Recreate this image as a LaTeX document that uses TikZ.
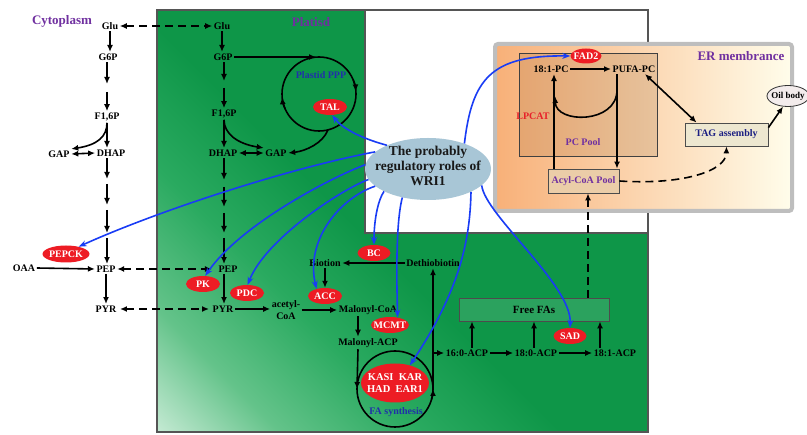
\documentclass[tikz,border=0pt]{standalone}
\usepackage{fontspec}
\setmainfont{Liberation Serif}
\usetikzlibrary{shapes.geometric,arrows.meta,calc}
\definecolor{gDark}{RGB}{14,150,72}
\definecolor{gMid2}{RGB}{42,170,96}
\definecolor{gMid}{RGB}{100,195,138}
\definecolor{gLight}{RGB}{212,240,223}
\definecolor{enzRed}{RGB}{237,28,36}
\definecolor{wriBlue}{RGB}{25,60,245}
\definecolor{wriFill}{RGB}{168,198,214}
\definecolor{purp}{RGB}{112,48,160}
\definecolor{dblue}{RGB}{32,48,170}
\definecolor{navy}{RGB}{26,30,130}
\definecolor{erL}{RGB}{248,176,120}
\definecolor{erR}{RGB}{255,253,235}
\definecolor{erBorder}{RGB}{190,190,190}
\definecolor{frameGray}{RGB}{85,85,85}
\definecolor{acylFill}{RGB}{235,205,168}
\definecolor{tagFill}{RGB}{237,231,208}
\definecolor{oilFill}{RGB}{243,236,236}
\definecolor{lpRed}{RGB}{232,32,42}
\definecolor{pcTint}{RGB}{140,90,40}
\pgfdeclarehorizontalshading{plastidsh}{100bp}{color(0bp)=(gLight); color(13bp)=(gLight); color(24bp)=(gMid); color(35bp)=(gMid2); color(46bp)=(gDark); color(100bp)=(gDark)}
\begin{document}
\begin{tikzpicture}[x=1pt,y=-1pt,
  lbl/.style={font=\fontsize{10}{12}\selectfont\bfseries, inner sep=1.5pt},
  bigp/.style={font=\fontsize{13}{15}\selectfont\bfseries, text=purp, inner sep=1pt},
  blueT/.style={font=\fontsize{10}{12}\selectfont\bfseries, text=dblue, inner sep=1pt},
  enz/.style={ellipse, fill=enzRed, inner sep=0pt},
  enzT/.style={font=\fontsize{10}{12}\selectfont\bfseries, text=white, inner sep=0pt, align=center},
  arr/.style={-{Latex[length=7pt,width=6pt]}, line width=1.6pt},
  darr/.style={{Latex[length=7pt,width=6pt]}-{Latex[length=7pt,width=6pt]}, line width=1.6pt},
  dsh/.style={dash pattern=on 8pt off 5pt},
  blu/.style={-{Stealth[length=8pt,width=6pt]}, line width=1.6pt, draw=wriBlue},
  pcbox/.style={draw=black!75, line width=0.8pt, fill=pcTint, fill opacity=0.18, minimum width=138pt, minimum height=103pt},
  ffabox/.style={draw=black!70, line width=0.8pt, fill=white, fill opacity=0.12, text opacity=1, minimum width=150pt, minimum height=23pt, font=\fontsize{11}{13}\selectfont\bfseries},
  acylbox/.style={draw=black!70, line width=0.8pt, fill=acylFill, minimum width=71pt, minimum height=24pt, text=purp, font=\fontsize{10}{12}\selectfont\bfseries},
  tagbox/.style={draw=black!70, line width=0.8pt, fill=tagFill, minimum width=83pt, minimum height=23pt, text=navy, font=\fontsize{10}{12}\selectfont\bfseries},
]
\useasboundingbox (0,0) rectangle (807,435);
% ---------- backgrounds
\shade[shading=plastidsh, shading angle=45] (157,10) rectangle (648,432);
\fill[white] (365,10) rectangle (648,233);
\draw[frameGray, line width=1.5pt] (157,10) rectangle (648,432);
\draw[frameGray, line width=1.5pt] (365,10) rectangle (648,233);
\shade[left color=erL, right color=erR, rounded corners=3pt] (495,44) rectangle (792,211);
\draw[erBorder, line width=4pt, rounded corners=3pt] (495,44) rectangle (792,211);

% ---------- titles
\node[bigp] (cyto) at (62,21) {Cytoplasm};
\node[bigp] (plast) at (311,22) {Platisd};
\node[bigp] (er) at (741,56) {ER membrance};

% ---------- cytoplasm nodes
\node[lbl] (cglu) at (110,26) {Glu};
\node[lbl] (cg6p) at (108,57) {G6P};
\node[lbl] (cf16p) at (107,117) {F1,6P};
\node[lbl] (cgap) at (59,154) {GAP};
\node[lbl] (cdhap) at (111,153) {DHAP};
\node[lbl] (cpep) at (106,269) {PEP};
\node[lbl] (cpyr) at (106,309) {PYR};
\node[lbl] (oaa) at (24,268) {OAA};

% ---------- plastid nodes
\node[lbl] (pglu) at (222,26) {Glu};
\node[lbl] (pg6p) at (223,57) {G6P};
\node[lbl] (pf16p) at (224,114) {F1,6P};
\node[lbl] (pdhap) at (223,153) {DHAP};
\node[lbl] (pgap) at (276,153) {GAP};
\node[lbl] (ppep) at (228,269) {PEP};
\node[lbl] (ppyr) at (223,309) {PYR};
\node[lbl, align=center] (acoa) at (286,310) {acetyl-\\CoA};
\node[lbl] (mcoa) at (368,310) {Malonyl-CoA};
\node[lbl] (macp) at (368,343) {Malonyl-ACP};
\node[lbl] (biot) at (325,263) {Biotion};
\node[lbl] (dethio) at (433,263) {Dethiobiotin};
\node[lbl] (c160) at (467,353) {16:0-ACP};
\node[lbl] (c180) at (536,353) {18:0-ACP};
\node[lbl] (c181) at (615,353) {18:1-ACP};
\node[ffabox] (ffa) at (534,309.5) {Free FAs};

% ---------- cytoplasm arrows
\coordinate (ca1) at (107,84);
\coordinate (ca2) at (107,92);
\draw[arr] (cglu.south) -- (cglu.south |- cg6p.north);
\draw[arr] (cg6p.south -| ca1) -- (ca1);
\draw[arr] (ca2) -- (ca2 |- cf16p.north);
\draw[arr] (cf16p.south) -- (cf16p.south |- cdhap.north);
\draw[arr] (cf16p.south) .. controls +(0,14) and +(26,-4) .. (cgap.north east);
\draw[darr] (cgap.east) -- (cdhap.west);
\coordinate (cb1) at (107,179);
\coordinate (cb2) at (107,184);
\coordinate (cb3) at (107,205);
\coordinate (cb4) at (107,210);
\coordinate (cb5) at (107,233);
\coordinate (cb6) at (107,238);
\draw[arr] (cb1 |- cdhap.south) -- (cb1);
\draw[arr] (cb2) -- (cb3);
\draw[arr] (cb4) -- (cb5);
\draw[arr] (cb6) -- (cb6 |- cpep.north);
\draw[arr] (cpep.south) -- (cpyr.north);
\draw[arr] (oaa.east) -- (cpep.west);
\draw[darr, dsh] (cglu.east) -- (pglu.west);
\draw[darr, dsh] (cpep.east) -- ([xshift=-5pt]ppep.west);
\draw[darr, dsh] ([xshift=2pt]cpyr.east) -- ([xshift=-2pt]ppyr.west);

% ---------- plastid glycolysis arrows
\coordinate (pa1) at (224,81);
\coordinate (pa2) at (224,88);
\draw[arr] (pglu.south) -- (pglu.south |- pg6p.north);
\draw[arr] (pg6p.south -| pa1) -- (pa1);
\draw[arr] (pa2) -- (pa2 |- pf16p.north);
\draw[arr] (pf16p.south) -- (pf16p.south |- pdhap.north);
\draw[arr] (pf16p.south) .. controls +(0,14) and +(-26,-4) .. (pgap.north west);
\draw[darr] (pdhap.east) -- (pgap.west);
\coordinate (pb1) at (224,180);
\coordinate (pb2) at (224,187);
\coordinate (pb3) at (224,207);
\coordinate (pb4) at (224,213);
\coordinate (pb5) at (224,233);
\coordinate (pb6) at (224,238);
\draw[arr] (pb1 |- pdhap.south) -- (pb1);
\draw[arr] (pb2) -- (pb3);
\draw[arr] (pb4) -- (pb5);
\draw[arr] (pb6) -- (pb6 |- ppep.north);
\draw[arr] (pb6 |- ppep.south) -- (pb6 |- ppyr.north);
\draw[arr] (ppyr.east) -- (ppyr.east -| acoa.west);
\draw[arr] (acoa.east |- mcoa.west) -- (mcoa.west);
\draw[arr] ([xshift=-10pt]mcoa.south) -- ([xshift=-10pt]macp.north);
\draw[arr] (dethio.west) -- (biot.east);

% ---------- Plastid PPP cycle
\coordinate (pppc) at (319,94);
\draw[line width=1.6pt] (pppc) circle[radius=37];
\coordinate (pppin) at (316,57);
\draw[arr] (pg6p.east) -- (pppin);
\draw[arr] ($(pppc)+(-22:37)$) arc[start angle=-22, end angle=-4, radius=37];
\draw[arr] ($(pppc)+(156:37)$) arc[start angle=156, end angle=175, radius=37];
\coordinate (pppout) at ($(pppc)+(76:37)$);
\draw[arr] (pppout) .. controls (323,143) and (306,151) .. (pgap.east);
\node[blueT] (ppptxt) at (321,75) {Plastid PPP};

% ---------- FA synthesis cycle
\coordinate (fac) at (395,389);
\draw[line width=1.6pt] (fac) circle[radius=38];
\coordinate (fal) at ($(fac)+(180:38)$);
\coordinate (far) at ($(fac)+(0:38)$);
\draw[arr] ($(fac)+(16:38)$) arc[start angle=16, end angle=0, radius=38];
\draw[arr] ([xshift=-10pt]macp.south) -- (fal);
\draw[arr] (far) -- (dethio.south);
\coordinate (brp) at (433,353);
\draw[arr] (brp) -- (c160.west);
\draw[arr] (c160.east) -- (c180.west);
\draw[arr] (c180.east) -- (c181.west);
\coordinate (u1) at ([xshift=5pt]c160.north);
\coordinate (u2) at ([xshift=-2pt]c180.north);
\coordinate (u3) at ([xshift=-15pt]c181.north);
\draw[arr] (u1) -- (u1 |- ffa.south);
\draw[arr] (u2) -- (u2 |- ffa.south);
\draw[arr] (u3) -- (u3 |- ffa.south);

% ---------- enzymes
\node[enz, minimum width=47pt, minimum height=17pt] (pepck) at (66,254) {};
\node[enzT] (pepckT) at (pepck) {PEPCK};
\node[enz, minimum width=34pt, minimum height=16pt] (pk) at (203,284) {};
\node[enzT] (pkT) at (pk) {PK};
\node[enz, minimum width=34pt, minimum height=16pt] (pdc) at (247,293) {};
\node[enzT] (pdcT) at (pdc) {PDC};
\node[enz, minimum width=34pt, minimum height=16pt] (acc) at (325,296) {};
\node[enzT] (accT) at (acc) {ACC};
\node[enz, minimum width=33pt, minimum height=16pt] (bc) at (374,253) {};
\node[enzT] (bcT) at (bc) {BC};
\node[enz, minimum width=38pt, minimum height=16pt] (mcmt) at (390,325) {};
\node[enzT] (mcmtT) at (mcmt) {MCMT};
\node[enz, minimum width=34pt, minimum height=16pt] (tal) at (330,107) {};
\node[enzT] (talT) at (tal) {TAL};
\node[enz, minimum width=33pt, minimum height=16pt] (sad) at (570,336) {};
\node[enzT] (sadT) at (sad) {SAD};
\node[enz, minimum width=68pt, minimum height=39pt] (kasi) at (395,383) {};
\node[enzT, font=\fontsize{10.5}{12}\selectfont\bfseries] (kasiT) at (kasi) {KASI\enspace KAR\\HAD\enspace EAR1};
\node[blueT] (fatxt) at (396,412) {FA synthesis};
\draw[arr] (biot.south) -- (acc.north);

% ---------- ER membrane
\node[pcbox] (pcpool) at (588,104.5) {};
\node[lbl, text=purp] (pcpoolT) at (583,142) {PC Pool};
\node[lbl, text=lpRed] (lpcat) at (533,116) {LPCAT};
\node[lbl] (s181pc) at (551,69) {18:1-PC};
\node[lbl] (pufapc) at (634,69) {PUFA-PC};
\node[enz, minimum width=31pt, minimum height=15pt] (fad2) at (586,56) {};
\node[enzT] (fad2T) at (fad2) {FAD2};
\node[acylbox] (acyl) at (583.5,181) {Acyl-CoA Pool};
\node[tagbox] (tag) at (726.5,134.5) {TAG assembly};
\node[ellipse, draw=black!80, line width=0.8pt, fill=oilFill, minimum width=42pt, minimum height=21pt, inner sep=0pt] (oil) at (788,96) {};
\node[lbl, font=\fontsize{9}{11}\selectfont\bfseries] (oilT) at (788,96) {Oil body};
\draw[arr] (s181pc.east) -- (pufapc.west);
\coordinate (pv) at ([xshift=-17pt]pufapc.south);
\draw[arr] (pv) -- (pv |- acyl.north);
\coordinate (av) at ([xshift=3pt]s181pc.south);
\draw[arr] (av |- acyl.north) -- (av);
\coordinate (uA) at (617,90);
\coordinate (uB) at (555,96);
\draw[arr] (uA) .. controls (617,124) and (556,124) .. (uB);
\draw[darr] ([xshift=-12pt]pufapc.south east) -- ([xshift=12pt]tag.north west);
\draw[arr] ([yshift=-5pt]tag.north east) -- (oil.245);
\draw[arr, dsh] (acyl.east) .. controls (680,185) and (726,172) .. (tag.south);
\coordinate (fd) at ([xshift=54pt]ffa.north);
\draw[arr, dsh] (fd) -- (fd |- acyl.south);

% ---------- WRI1
\node[ellipse, fill=wriFill, minimum width=126pt, minimum height=62pt, inner sep=0pt] (wri) at (428,169) {};
\node[font=\fontsize{13.5}{15}\selectfont\bfseries, align=center, text=black!90] (wriT) at (428,166) {The probably\\regulatory roles of\\WRI1};
\draw[blu] (wri.150) .. controls (360,138) and (342,128) .. (tal.-75);
\draw[blu] (wri.162) .. controls (290,168) and (160,210) .. (pepck.30);
\draw[blu] (wri.176) .. controls (330,178) and (240,225) .. (pk.75);
\draw[blu] (wri.190) .. controls (340,190) and (265,240) .. (pdc.85);
\draw[blu] (wri.198) .. controls (340,198) and (305,240) .. (acc.140);
\draw[blu] (wri.207) .. controls (378,200) and (374,220) .. (bc.north);
\draw[blu] (wri.228) .. controls (395,225) and (397,290) .. (mcmt.45);
\draw[blu] (wri.-28) .. controls (470,240) and (460,290) .. (kasi.50);
\draw[blu] (wri.-17) .. controls (485,215) and (572,285) .. (sad.north);
\draw[blu] (wri.35) .. controls (472,80) and (490,55) .. (fad2.west);
\end{tikzpicture}
\end{document}
